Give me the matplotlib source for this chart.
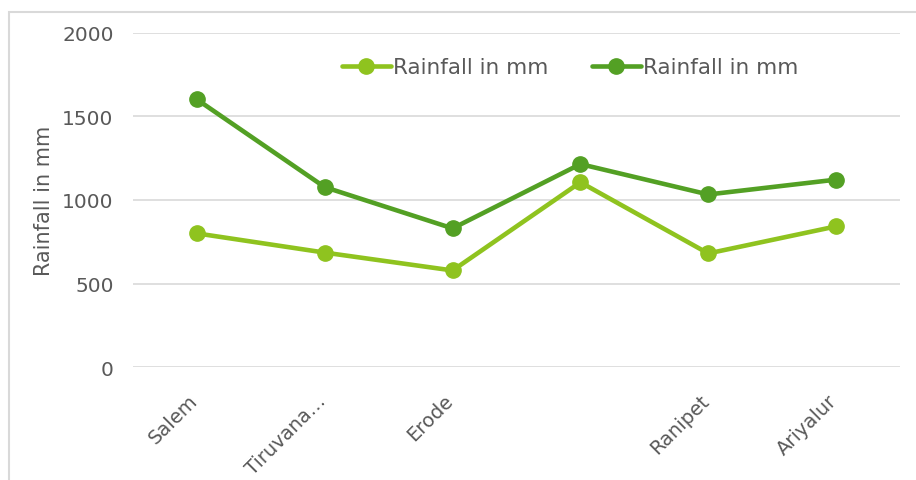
import matplotlib.pyplot as plt
import matplotlib.patches as mpatches
from matplotlib.transforms import ScaledTranslation

# data
districts = ['Salem', 'Tiruvana\u2026', 'Erode', '', 'Ranipet', 'Ariyalur']
rain_light = [800, 685, 578, 1106, 680, 842]
rain_dark = [1602, 1077, 830, 1215, 1033, 1122]
series_names = ['Rainfall in mm', 'Rainfall in mm']

light_green = '#8FC31F'
dark_green = '#53A024'
text_grey = '#595959'

plt.rcParams['font.family'] = ['DejaVu Sans']

fig = plt.figure(figsize=(9.16, 4.81), dpi=100)
ax = fig.add_axes([133 / 916, 1 - 368 / 481, 767 / 916, 334 / 481])

x = range(len(districts))
ax.plot(x, rain_light, color=light_green, lw=3.3, marker='o', ms=11,
        label=series_names[0], solid_capstyle='round', zorder=3)
ax.plot(x, rain_dark, color=dark_green, lw=3.3, marker='o', ms=11,
        label=series_names[1], solid_capstyle='round', zorder=3)

ax.set_xlim(-0.5, len(districts) - 0.5)
ax.set_ylim(0, 2000)
ax.set_yticks([0, 500, 1000, 1500, 2000])
ax.set_xticks(list(x))
ax.set_xticklabels(districts, rotation=45, ha='right', rotation_mode='anchor',
                   fontsize=14, color=text_grey)
ax.tick_params(axis='y', labelsize=14.5, labelcolor=text_grey, length=0, pad=14)
ax.tick_params(axis='x', length=0, pad=17)
# nudge the rotated names a bit left like the original
shift = ScaledTranslation(-9 / 100, 0, fig.dpi_scale_trans)
for lab in ax.get_xticklabels():
    lab.set_transform(lab.get_transform() + shift)
ax.grid(axis='y', color='#D9D9D9', lw=1.2)
ax.set_axisbelow(True)
for s in ax.spines.values():
    s.set_visible(False)

ax.set_ylabel('Rainfall in mm', fontsize=15, color=text_grey, labelpad=6)

leg = ax.legend(loc='upper center', bbox_to_anchor=(0.57, 0.985), ncol=2,
                frameon=False, fontsize=15.5, handlelength=2.3, handletextpad=0.1,
                columnspacing=2.0, labelcolor=text_grey)

# outer chart border
border = mpatches.Rectangle((9 / 916, -0.1), 1.2, 1 - 13 / 481 + 0.1,
                            transform=fig.transFigure, fill=False,
                            edgecolor='#D9D9D9', lw=1.5)
fig.patches.append(border)

plt.savefig('out.png', dpi=100)
